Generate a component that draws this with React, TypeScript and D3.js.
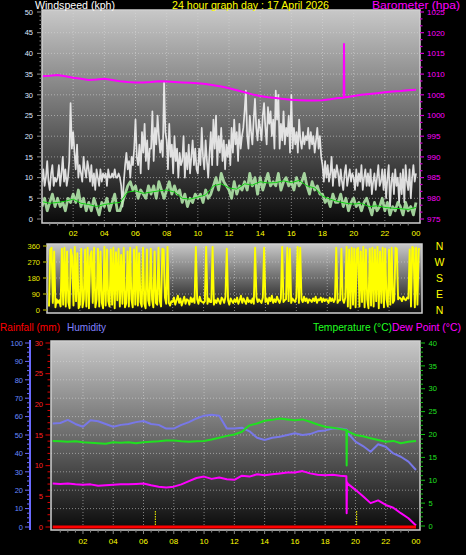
import React, { useEffect } from 'react';
import * as d3 from 'd3';

const FONT = "'Liberation Sans', Arial, sans-serif";

// ---- tick labels ----
const hourTicks = [2, 4, 6, 8, 10, 12, 14, 16, 18, 20, 22, 24];
const hourLabels = ['02', '04', '06', '08', '10', '12', '14', '16', '18', '20', '22', '00'];
const windTicks = [0, 5, 10, 15, 20, 25, 30, 35, 40, 45, 50];
const baroTicks = [975, 980, 985, 990, 995, 1000, 1005, 1010, 1015, 1020, 1025];
const dirTicks = [0, 90, 180, 270, 360];
const dirLetters = ['N', 'E', 'S', 'W', 'N'];
const humTicks = [0, 10, 20, 30, 40, 50, 60, 70, 80, 90, 100];
const rainTicks = [0, 5, 10, 15, 20, 25, 30];
const tempTicks = [0, 5, 10, 15, 20, 25, 30, 35, 40];

// ---- wind gust, 5-minute samples (kph) ----
const gust5min = [
  9, 12, 8, 10, 14, 9, 7, 11, 13, 8, 10, 9,
  10, 13, 8, 11, 15, 9, 12, 8, 10, 14, 28, 17,
  21, 16, 12, 18, 10, 13, 11, 9, 15, 12, 10, 14,
  12, 9, 13, 8, 11, 7, 12, 10, 8, 12, 9, 11,
  10, 11, 8, 12, 10, 10, 11, 10, 12, 10, 10, 11,
  10, 8, 3, 9, 13, 16, 12, 14, 10, 15, 13, 17,
  24, 15, 13, 18, 11, 21, 16, 23, 14, 19, 12, 17,
  17, 26, 14, 22, 18, 25, 20, 16, 19, 15, 33, 21,
  19, 12, 23, 15, 18, 11, 20, 14, 17, 10, 16, 13,
  14, 20, 10, 16, 12, 18, 11, 15, 19, 13, 17, 12,
  11, 17, 13, 22, 15, 12, 19, 14, 10, 16, 21, 13,
  24, 17, 25, 13, 20, 16, 22, 14, 19, 12, 18, 15,
  19, 13, 22, 16, 24, 18, 21, 14, 23, 17, 20, 22,
  26, 31, 20, 17, 25, 21, 18, 24, 29, 22, 19, 24,
  22, 19, 25, 28, 22, 18, 27, 23, 26, 20, 24, 17,
  31, 24, 30, 17, 23, 19, 26, 18, 22, 20, 25, 16,
  30, 17, 22, 18, 21, 16, 24, 19, 17, 21, 18, 20,
  19, 22, 17, 21, 18, 20, 16, 19, 22, 17, 20, 15,
  13, 9, 14, 10, 13, 9, 11, 15, 8, 12, 10, 13,
  11, 8, 12, 9, 7, 11, 13, 8, 10, 12, 9, 11,
  10, 7, 12, 8, 11, 9, 13, 7, 10, 12, 8, 11,
  8, 12, 6, 9, 11, 7, 10, 13, 8, 9, 12, 7,
  12, 5, 10, 13, 3, 9, 11, 6, 12, 8, 10, 4,
  11, 6, 12, 4, 13, 9, 7, 12, 5, 10, 13, 9,
  11,
];

// ---- average wind, 10-minute samples (kph) ----
const avg10min = [
  3, 5, 2, 4, 6, 3,
  5, 3, 4, 2, 5, 4,
  6, 4, 7, 3, 5, 2,
  4, 2, 5, 3, 1, 4,
  3, 5, 2, 4, 6, 2,
  2, 4, 6, 8, 9, 7,
  8, 5, 7, 6, 5, 8,
  6, 8, 5, 9, 7, 5,
  7, 9, 6, 8, 6, 7,
  4, 6, 3, 5, 4, 6,
  5, 6, 4, 7, 5, 6,
  8, 10, 7, 11, 9, 8,
  7, 5, 9, 6, 8, 7,
  9, 7, 11, 8, 10, 6,
  10, 7, 9, 11, 8, 9,
  8, 11, 7, 9, 10, 8,
  9, 7, 10, 8, 9, 11,
  8, 6, 9, 7, 8, 6,
  6, 4, 5, 3, 6, 4,
  4, 6, 3, 5, 2, 4,
  5, 3, 4, 2, 4, 5,
  3, 1, 4, 2, 3, 5,
  2, 4, 1, 3, 2, 4,
  3, 1, 4, 2, 3, 1,
  4,
];

// ---- smoothed average wind, 30-minute samples (kph) ----
const avg30min = [
  4.2, 3.8, 4.0, 4.3, 4.8, 3.8, 3.5, 3.0, 3.5, 3.8, 4.0, 6.5,
  6.8, 6.2, 6.5, 6.8, 7.0, 6.5, 5.0, 4.8, 5.3, 5.8, 8.0, 8.5,
  7.5, 7.2, 8.5, 8.2, 9.0, 8.7, 8.8, 9.2, 8.8, 9.3, 8.0, 7.5,
  5.5, 4.8, 4.2, 3.8, 3.6, 3.8, 3.0, 3.2, 2.8, 2.6, 2.5, 2.3,
  2.8,
];

// ---- barometer (hPa) ----
const baroTimes = [
  0, 0.5, 1, 1.5, 2, 2.5, 3, 3.5, 4, 4.5, 5, 5.5, 6, 6.5, 7, 7.5, 8, 8.5, 9, 9.5,
  10, 10.5, 11, 11.5, 12, 12.5, 13, 13.5, 14, 14.5, 15, 15.5, 16, 16.5, 17, 17.5,
  18, 18.5, 19, 19.36, 19.38, 19.4, 19.5, 20, 20.5, 21, 21.5, 22, 22.5, 23, 23.5, 24,
];
const baroHpa = [
  1009.5, 1009.6, 1009.8, 1009.5, 1009.1, 1008.9, 1008.6, 1008.7, 1008.9, 1008.6,
  1008.3, 1008.1, 1008.0, 1008.0, 1008.1, 1008.3, 1008.2, 1008.1, 1008.0, 1007.9,
  1007.8, 1007.6, 1007.3, 1007.0, 1006.6, 1006.1, 1005.6, 1005.1, 1004.7, 1004.4,
  1004.2, 1004.0, 1003.8, 1003.7, 1003.6, 1003.6, 1003.7, 1003.9, 1004.2, 1004.3,
  1017.3, 1004.4, 1004.4, 1004.7, 1005.0, 1005.2, 1005.4, 1005.6, 1005.8, 1005.9,
  1006.1, 1006.2,
];

// ---- wind direction, 5-minute samples (degrees) ----
const dir5min = [
  20, 340, 350, 40, 330, 15, 60, 40, 55, 20, 345, 30,
  350, 20, 330, 45, 10, 340, 300, 25, 355, 50, 320, 10,
  30, 345, 15, 60, 340, 20, 350, 10, 300, 330, 40, 350,
  15, 60, 345, 20, 330, 40, 10, 355, 25, 340, 50, 20,
  340, 30, 350, 10, 325, 55, 345, 20, 310, 35, 350, 15,
  40, 330, 20, 350, 60, 15, 340, 30, 355, 25, 320, 45,
  20, 350, 35, 10, 340, 55, 25, 345, 60, 15, 330, 40,
  30, 350, 50, 20, 345, 340, 70, 35, 355, 40, 25, 50,
  45, 70, 30, 55, 80, 40, 65, 25, 50, 75, 35, 60,
  55, 30, 70, 45, 65, 40, 355, 60, 35, 75, 50, 45,
  40, 50, 355, 35, 65, 45, 45, 355, 30, 55, 40, 65,
  50, 35, 70, 60, 40, 75, 345, 55, 30, 65, 50, 40,
  60, 45, 70, 35, 55, 80, 40, 65, 50, 35, 70, 45,
  55, 40, 65, 35, 350, 75, 45, 60, 50, 40, 70, 350,
  45, 65, 35, 70, 50, 80, 40, 60, 45, 75, 55, 40,
  65, 355, 45, 55, 60, 350, 50, 345, 40, 65, 55, 45,
  70, 355, 40, 350, 60, 45, 75, 50, 65, 40, 60, 55,
  45, 65, 50, 75, 40, 60, 55, 70, 45, 65, 50, 60,
  55, 40, 70, 50, 65, 45, 60, 350, 40, 55, 55, 345,
  60, 40, 70, 355, 20, 340, 10, 350, 30, 345, 15, 340,
  350, 20, 330, 45, 355, 15, 340, 60, 10, 345, 25, 350,
  20, 340, 50, 355, 10, 330, 40, 350, 15, 345, 60, 20,
  340, 30, 350, 40, 55, 350, 345, 60, 70, 65, 50, 75,
  60, 55, 70, 65, 340, 20, 355, 345, 15, 350, 30, 345,
  340,
];

// ---- bottom panel series ----
const bottomTimes = [
  0, 0.5, 1, 1.5, 2, 2.5, 3, 3.5, 4, 4.5, 5, 5.5, 6, 6.5, 7, 7.5, 8, 8.5, 9, 9.5,
  10, 10.5, 11, 11.5, 12, 12.5, 13, 13.5, 14, 14.5, 15, 15.5, 16, 16.5, 17, 17.5,
  18, 18.5, 19, 19.4, 19.42, 19.44, 19.5, 20, 20.5, 21, 21.5, 22, 22.5, 23, 23.5, 24,
];
const temperature = [
  18.6, 18.5, 18.4, 18.5, 18.3, 18.2, 18.1, 18.0, 18.3, 18.2, 18.3, 18.1, 18.3, 18.4,
  18.5, 18.7, 18.7, 18.5, 18.4, 18.5, 18.6, 18.9, 19.3, 19.7, 20.0, 20.6, 22.0, 22.4,
  23.0, 23.2, 23.5, 23.3, 23.1, 23.3, 22.8, 22.2, 21.7, 21.5, 21.2, 21.0, 13.2, 20.9,
  20.7, 19.9, 19.6, 19.2, 18.8, 18.4, 18.6, 18.1, 18.4, 18.6,
];
const humidity = [
  56.3, 56.5, 58.2, 56, 54.5, 58, 57.5, 56, 54.5, 55.5, 56, 57, 57.6, 56, 55.5, 53.5,
  53.5, 55.5, 57, 59, 60.5, 61, 60.5, 53.6, 53.5, 54, 52, 48.5, 47.3, 48.5, 49, 50,
  50.9, 50, 50.5, 52, 52.5, 53.5, 53.6, 53, 53, 52.5, 51, 46.4, 44, 40.9, 45, 43.6,
  40, 38.2, 35.5, 31,
];
const dewPoint = [
  9.3, 9.2, 9.3, 9.1, 9.0, 9.1, 8.8, 8.9, 9.0, 9.1, 9.1, 9.2, 9.3, 8.9, 8.6, 8.4,
  8.6, 9.1, 9.8, 10.5, 10.8, 10.3, 10.6, 10.2, 10.1, 11.0, 10.8, 11.3, 11.1, 11.3,
  11.5, 11.7, 11.7, 12.0, 11.5, 11.2, 11.1, 11.2, 11.0, 10.9, 2.8, 9.6, 9.2, 7.9,
  6.5, 5.0, 5.6, 4.6, 4.0, 2.8, 1.7, 0.1,
];
const rainTimes = [0, 24];
const rainfall = [0, 0];
const sunEvents = [6.78, 20.08];

// ---- layout ----
const TOP = { x0: 42, x1: 420, y0: 10, y1: 223 };
const MID = { x0: 47, x1: 422, y0: 244, y1: 313 };
const BOT = { x0: 51, x1: 420, y0: 341, y1: 530 };

export default function App() {
  useEffect(() => {
    document.body.style.margin = '0';
    document.body.style.background = '#000';
  }, []);

  const xTop = d3.scaleLinear().domain([0, 24]).range([42, 416]);
  const yWind = d3.scaleLinear().domain([0, 50]).range([219, 12]);
  const yBaro = d3.scaleLinear().domain([975, 1025]).range([219, 12]);
  const xMid = d3.scaleLinear().domain([0, 24]).range([49, 420]);
  const yDir = d3.scaleLinear().domain([0, 360]).range([310, 246]);
  const xBot = d3.scaleLinear().domain([0, 24]).range([52.7, 416]);
  const yHum = d3.scaleLinear().domain([0, 100]).range([527, 343]);
  const yRain = d3.scaleLinear().domain([0, 30]).range([527, 343]);
  const yTemp = d3.scaleLinear().domain([0, 40]).range([526, 343]);

  const lineTop = (arr: number[], perHour: number) =>
    d3.line<number>().x((_, i) => xTop(i / perHour)).y((d) => yWind(d))(arr) || '';
  const baroPath =
    d3.line<number>().x((_, i) => xTop(baroTimes[i])).y((d) => yBaro(d))(baroHpa) || '';
  const dirPath =
    d3.line<number>().x((_, i) => xMid(i / 12)).y((d) => yDir(d))(dir5min) || '';
  const botLine = (arr: number[], y: d3.ScaleLinear<number, number>) =>
    d3.line<number>().x((_, i) => xBot(bottomTimes[i])).y((d) => y(d))(arr) || '';
  const rainPath =
    d3.line<number>().x((_, i) => xBot(rainTimes[i])).y((d) => yRain(d))(rainfall) || '';

  const grid = { stroke: '#d8d8d8', strokeOpacity: 0.55, strokeWidth: 1, strokeDasharray: '1,2' };
  const small = { fontFamily: FONT, fontSize: 7.5 };

  const halfHours = d3.range(1, 48).map((d) => d / 2);

  return (
    <svg width={466} height={555} style={{ position: 'absolute', left: 0, top: 0, display: 'block', background: '#000' }}>
      <defs>
        <linearGradient id="bg" x1="0" y1="0" x2="0" y2="1">
          <stop offset="0" stopColor="#c8c8c8" />
          <stop offset="0.5" stopColor="#6c6c6c" />
          <stop offset="1" stopColor="#0a0a0a" />
        </linearGradient>
        <clipPath id="cTop"><rect x={TOP.x0} y={TOP.y0} width={TOP.x1 - TOP.x0} height={TOP.y1 - TOP.y0} /></clipPath>
        <clipPath id="cMid"><rect x={MID.x0} y={MID.y0} width={MID.x1 - MID.x0} height={MID.y1 - MID.y0} /></clipPath>
        <clipPath id="cBot"><rect x={BOT.x0} y={BOT.y0} width={BOT.x1 - BOT.x0} height={BOT.y1 - BOT.y0} /></clipPath>
      </defs>
      <rect x={0} y={0} width={466} height={555} fill="#000" />

      {/* ===== TOP PANEL ===== */}
      <rect x={TOP.x0} y={TOP.y0} width={TOP.x1 - TOP.x0} height={TOP.y1 - TOP.y0} fill="url(#bg)" />
      {windTicks.slice(1, -1).map((t) => (
        <line key={'tg' + t} x1={TOP.x0} x2={TOP.x1} y1={yWind(t)} y2={yWind(t)} {...grid} />
      ))}
      {hourTicks.slice(0, -1).map((h) => (
        <line key={'tv' + h} x1={xTop(h)} x2={xTop(h)} y1={TOP.y0} y2={TOP.y1} {...grid} />
      ))}
      <g clipPath="url(#cTop)" fill="none" strokeLinejoin="round">
        <path d={lineTop(gust5min, 12)} stroke="#f2f2f2" strokeOpacity={0.9} strokeWidth={1.7} />
        <path d={lineTop(avg10min, 6)} stroke="#b8f0b0" strokeOpacity={0.85} strokeWidth={2.8} />
        <path d={lineTop(avg30min, 2)} stroke="#10d010" strokeWidth={1} />
        <path d={baroPath} stroke="#ff00ff" strokeWidth={2} />
      </g>
      <rect x={TOP.x0} y={TOP.y0} width={TOP.x1 - TOP.x0} height={TOP.y1 - TOP.y0} fill="none" stroke="#cfcfcf" strokeWidth={1.5} />
      {/* left wind axis */}
      {d3.range(0, 51).map((v) => (
        <line key={'wt' + v} x1={v % 5 === 0 ? 37 : 39.5} x2={42} y1={yWind(v)} y2={yWind(v)} stroke="#8a8a8a" strokeWidth={1} />
      ))}
      {windTicks.map((t) => (
        <text key={'wl' + t} x={33} y={yWind(t) + 2.7} textAnchor="end" fill="#dfe6ff" {...small}>{t}</text>
      ))}
      {/* right baro axis */}
      {d3.range(0, 31).map((k) => {
        const v = 975 + (k * 5) / 3;
        return (
          <line key={'bt' + k} x1={420} x2={k % 3 === 0 ? 424 : 422.5} y1={yBaro(v)} y2={yBaro(v)} stroke="#d000d0" strokeWidth={1.2} />
        );
      })}
      {baroTicks.map((t) => (
        <text key={'bl' + t} x={427} y={yBaro(t) + 2.8} fill="#ff00ff" {...small} fontSize={8}>{t}</text>
      ))}
      {/* top x axis */}
      {halfHours.map((h) => (
        <line key={'tx' + h} x1={xTop(h)} x2={xTop(h)} y1={223} y2={Number.isInteger(h / 2) ? 227 : 225.5} stroke="#8a8a8a" />
      ))}
      {hourTicks.map((h, i) => (
        <text key={'txl' + h} x={xTop(h)} y={236} textAnchor="middle" fill="#ffff00" {...small} fontSize={8}>{hourLabels[i]}</text>
      ))}

      {/* ===== titles ===== */}
      <g fontFamily={FONT} fontSize={10.5}>
        <text x={35} y={9} fill="#ffffff" textLength={80} lengthAdjust="spacingAndGlyphs">Windspeed (kph)</text>
        <text x={172} y={9} fill="#ffff00" textLength={157} lengthAdjust="spacingAndGlyphs">24 hour graph day : 17 April 2026</text>
        <text x={372} y={9} fill="#ff00ff" textLength={88} lengthAdjust="spacingAndGlyphs">Barometer (hpa)</text>
        <text x={0} y={331} fill="#ff0000" textLength={60} lengthAdjust="spacingAndGlyphs">Rainfall (mm)</text>
        <text x={67} y={331} fill="#8080ff" textLength={39} lengthAdjust="spacingAndGlyphs">Humidity</text>
        <text x={313} y={331} fill="#20ff20" textLength={79} lengthAdjust="spacingAndGlyphs">Temperature (°C)</text>
        <text x={392} y={331} fill="#ff00ff" textLength={69} lengthAdjust="spacingAndGlyphs">Dew Point (°C)</text>
      </g>

      {/* ===== MIDDLE PANEL ===== */}
      <rect x={MID.x0} y={MID.y0} width={MID.x1 - MID.x0} height={MID.y1 - MID.y0} fill="url(#bg)" />
      {dirTicks.slice(1, -1).map((t) => (
        <line key={'mg' + t} x1={MID.x0} x2={MID.x1} y1={yDir(t)} y2={yDir(t)} {...grid} />
      ))}
      {hourTicks.slice(0, -1).map((h) => (
        <line key={'mv' + h} x1={xMid(h)} x2={xMid(h)} y1={MID.y0} y2={MID.y1} {...grid} />
      ))}
      <g clipPath="url(#cMid)">
        <path d={dirPath} fill="none" stroke="#ffff00" strokeWidth={1.9} strokeLinejoin="round" />
      </g>
      <rect x={MID.x0} y={MID.y0} width={MID.x1 - MID.x0} height={MID.y1 - MID.y0} fill="none" stroke="#cfcfcf" strokeWidth={1.5} />
      {dirTicks.map((t) => (
        <line key={'dt' + t} x1={43} x2={47} y1={yDir(t)} y2={yDir(t)} stroke="#a8a800" strokeWidth={1.2} />
      ))}
      {dirTicks.map((t) => (
        <text key={'dl' + t} x={40} y={yDir(t) + 2.7} textAnchor="end" fill="#e8e800" {...small}>{t}</text>
      ))}
      {dirTicks.map((t, i) => (
        <text key={'dn' + t} x={439.5} y={yDir(t) + 3.8} textAnchor="middle" fill="#ffff00" fontFamily={FONT} fontSize={10.5}>{dirLetters[i]}</text>
      ))}

      {/* ===== BOTTOM PANEL ===== */}
      <rect x={BOT.x0} y={BOT.y0} width={BOT.x1 - BOT.x0} height={BOT.y1 - BOT.y0} fill="url(#bg)" />
      {humTicks.slice(1, -1).map((t) => (
        <line key={'bg' + t} x1={BOT.x0} x2={BOT.x1} y1={yHum(t)} y2={yHum(t)} {...grid} />
      ))}
      {hourTicks.slice(0, -1).map((h) => (
        <line key={'bv' + h} x1={xBot(h)} x2={xBot(h)} y1={BOT.y0} y2={BOT.y1} {...grid} />
      ))}
      <g clipPath="url(#cBot)" fill="none" strokeLinejoin="round">
        {sunEvents.map((h) => (
          <line key={'sun' + h} x1={xBot(h)} x2={xBot(h)} y1={511} y2={528} stroke="#ffff00" strokeWidth={1} strokeDasharray="1.5,1" />
        ))}
        <path d={botLine(humidity, yHum)} stroke="#7878e8" strokeWidth={2} />
        <path d={botLine(temperature, yTemp)} stroke="#20e020" strokeWidth={2} />
        <path d={botLine(dewPoint, yTemp)} stroke="#ff00ff" strokeWidth={2} />
        <path d={rainPath} stroke="#ff0000" strokeWidth={3} />
      </g>
      <rect x={BOT.x0} y={BOT.y0} width={BOT.x1 - BOT.x0} height={BOT.y1 - BOT.y0} fill="none" stroke="#cfcfcf" strokeWidth={1.5} />
      {/* humidity axis */}
      <line x1={30} x2={30} y1={340} y2={530} stroke="#6a6aff" strokeWidth={2} />
      {d3.range(0, 41).map((k) => {
        const v = k * 2.5;
        return (
          <line key={'ht' + k} x1={k % 4 === 0 ? 25 : 27} x2={30} y1={yHum(v)} y2={yHum(v)} stroke="#6a6aff" strokeWidth={1} />
        );
      })}
      {humTicks.map((t) => (
        <text key={'hl' + t} x={23} y={yHum(t) + 2.7} textAnchor="end" fill="#6688ff" {...small}>{t}</text>
      ))}
      {/* rain axis */}
      {d3.range(0, 31).map((v) => (
        <line key={'rt' + v} x1={v % 5 === 0 ? 45.5 : 47.5} x2={50} y1={yRain(v)} y2={yRain(v)} stroke="#e00000" strokeWidth={1} />
      ))}
      {rainTicks.map((t) => (
        <text key={'rl' + t} x={43} y={yRain(t) + 2.7} textAnchor="end" fill="#ff2020" {...small}>{t}</text>
      ))}
      {/* temperature axis */}
      {d3.range(0, 41).map((v) => (
        <line key={'tt' + v} x1={420.5} x2={v % 5 === 0 ? 425 : 423} y1={yTemp(v)} y2={yTemp(v)} stroke="#10c010" strokeWidth={1} />
      ))}
      {tempTicks.map((t) => (
        <text key={'tl' + t} x={428.5} y={yTemp(t) + 2.7} fill="#20e020" {...small}>{t}</text>
      ))}
      {/* bottom x axis */}
      {halfHours.map((h) => (
        <line key={'bx' + h} x1={xBot(h)} x2={xBot(h)} y1={530} y2={Number.isInteger(h / 2) ? 534 : 532.5} stroke="#8a8a8a" />
      ))}
      {hourTicks.map((h, i) => (
        <text key={'bxl' + h} x={xBot(h)} y={544} textAnchor="middle" fill="#ffff00" {...small} fontSize={8}>{hourLabels[i]}</text>
      ))}
    </svg>
  );
}
